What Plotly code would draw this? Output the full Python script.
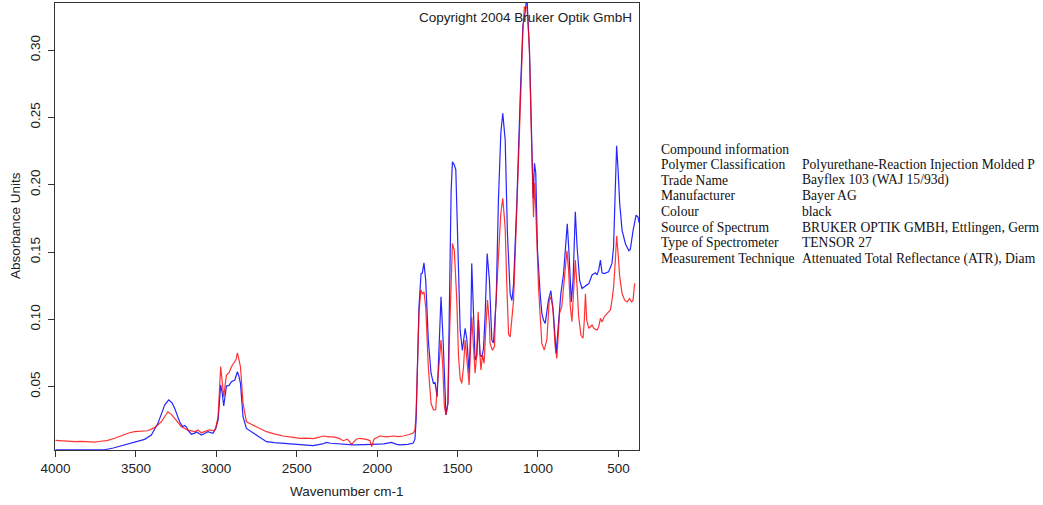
import plotly.graph_objects as go

# Wavenumber (cm-1) and absorbance of the two ATR spectra
wn_blue = [4000, 3900, 3800, 3695, 3640, 3591, 3508, 3446, 3404, 3363, 3321, 3296, 3275, 3259,
           3228, 3210, 3197, 3185, 3176, 3155, 3134, 3124, 3105, 3093, 3070, 3052, 3021, 3004,
           2989, 2973, 2963, 2954, 2937, 2921, 2906, 2885, 2869, 2860, 2850, 2834, 2813, 2780,
           2750, 2688, 2640, 2585, 2481, 2420, 2398, 2340, 2315, 2290, 2232, 2149, 2080, 2024,
           1960, 1910, 1880, 1858, 1810, 1775, 1765, 1758, 1750, 1740, 1727, 1719, 1709, 1698,
           1682, 1665, 1650, 1640, 1627, 1613, 1603, 1590, 1578, 1572, 1560, 1551, 1540, 1532,
           1520, 1511, 1501, 1484, 1470, 1462, 1453, 1442, 1428, 1418, 1412, 1398, 1391, 1380,
           1370, 1360, 1349, 1339, 1329, 1316, 1302, 1287, 1277, 1260, 1246, 1231, 1219, 1204,
           1190, 1173, 1162, 1152, 1131, 1111, 1094, 1080, 1069, 1053, 1040, 1030, 1022, 1014,
           1003, 997, 986, 976, 966, 955, 935, 920, 904, 887, 873, 858, 841, 829, 818, 807, 793,
           782, 768, 757, 741, 726, 705, 684, 664, 643, 633, 622, 612, 602, 588, 561, 540, 530,
           519, 511, 502, 492, 477, 456, 435, 426, 409, 390, 378, 372]
abs_blue = [0.0032, 0.0031, 0.0030, 0.0032, 0.0045, 0.0062, 0.0092, 0.0109, 0.0141, 0.0228,
            0.0364, 0.0403, 0.0380, 0.0340, 0.0240, 0.0205, 0.0212, 0.0200, 0.0178, 0.0147,
            0.0155, 0.0166, 0.0150, 0.0141, 0.0155, 0.0166, 0.0154, 0.0190, 0.0253, 0.0513,
            0.0450, 0.0357, 0.0505, 0.0510, 0.0537, 0.0550, 0.0611, 0.0580, 0.0525, 0.0277,
            0.0190, 0.0165, 0.0141, 0.0092, 0.0085, 0.0080, 0.0075, 0.0066, 0.0062, 0.0075,
            0.0087, 0.0080, 0.0075, 0.0068, 0.0070, 0.0072, 0.0075, 0.0087, 0.0072, 0.0068,
            0.0072, 0.0082, 0.0110, 0.0250, 0.0700, 0.1090, 0.1342, 0.1345, 0.1420, 0.1290,
            0.0847, 0.0600, 0.0525, 0.0530, 0.0426, 0.0797, 0.1168, 0.0847, 0.0377, 0.0290,
            0.0377, 0.1090, 0.1960, 0.2170, 0.2146, 0.2110, 0.1590, 0.0920, 0.0770, 0.0847,
            0.0934, 0.0847, 0.0600, 0.0946, 0.1416, 0.0946, 0.0698, 0.0735, 0.0995, 0.0735,
            0.0723, 0.0780, 0.1020, 0.1490, 0.1290, 0.0847, 0.0825, 0.1140, 0.1887, 0.2385,
            0.2530, 0.2335, 0.1639, 0.1190, 0.1140, 0.1260, 0.1890, 0.2637, 0.3180, 0.3280,
            0.3400, 0.3000, 0.2350, 0.1900, 0.2160, 0.2090, 0.1510, 0.1370, 0.1180, 0.1045,
            0.0995, 0.0970, 0.1143, 0.1213, 0.1045, 0.0748, 0.0946, 0.1190, 0.1340, 0.1540,
            0.1710, 0.1490, 0.1130, 0.1290, 0.1800, 0.1540, 0.1290, 0.1230, 0.1250, 0.1266,
            0.1330, 0.1346, 0.1330, 0.1370, 0.1440, 0.1346, 0.1340, 0.1354, 0.1416, 0.1540,
            0.1985, 0.2290, 0.2110, 0.1860, 0.1660, 0.1560, 0.1510, 0.1520, 0.1660, 0.1775,
            0.1760, 0.1720]

wn_red = [4000, 3960, 3920, 3880, 3840, 3800, 3757, 3720, 3680, 3633, 3600, 3570, 3540, 3508,
          3470, 3427, 3384, 3342, 3301, 3280, 3259, 3217, 3176, 3134, 3114, 3093, 3070, 3041,
          3014, 3004, 2989, 2973, 2962, 2954, 2937, 2921, 2906, 2890, 2878, 2869, 2850, 2834,
          2813, 2780, 2750, 2688, 2640, 2585, 2530, 2481, 2440, 2398, 2360, 2336, 2300, 2273,
          2240, 2211, 2185, 2159, 2130, 2107, 2066, 2045, 2034, 2020, 1983, 1940, 1900, 1870,
          1838, 1800, 1775, 1765, 1758, 1750, 1740, 1729, 1719, 1709, 1698, 1682, 1665, 1650,
          1636, 1623, 1611, 1603, 1592, 1582, 1572, 1560, 1551, 1540, 1532, 1520, 1505, 1494,
          1484, 1474, 1463, 1453, 1442, 1428, 1418, 1412, 1398, 1391, 1382, 1372, 1363, 1355,
          1345, 1335, 1324, 1314, 1302, 1298, 1283, 1270, 1264, 1246, 1231, 1219, 1204, 1194,
          1183, 1173, 1152, 1131, 1111, 1094, 1085, 1069, 1059, 1053, 1040, 1032, 1028, 1020,
          1012, 1001, 997, 986, 976, 961, 945, 930, 920, 908, 893, 883, 866, 852, 835, 820, 810,
          799, 789, 779, 768, 757, 747, 733, 720, 712, 705, 697, 684, 664, 653, 633, 622, 612,
          602, 588, 571, 550, 540, 530, 519, 511, 502, 492, 477, 461, 446, 430, 418, 409, 399]
abs_red = [0.0102, 0.0098, 0.0095, 0.0092, 0.0094, 0.0090, 0.0089, 0.0095, 0.0100, 0.0117,
           0.0133, 0.0147, 0.0158, 0.0166, 0.0170, 0.0173, 0.0196, 0.0240, 0.0314, 0.0295,
           0.0265, 0.0203, 0.0178, 0.0166, 0.0178, 0.0158, 0.0168, 0.0180, 0.0173, 0.0190,
           0.0277, 0.0649, 0.0520, 0.0426, 0.0587, 0.0604, 0.0649, 0.0674, 0.0700, 0.0752,
           0.0649, 0.0377, 0.0240, 0.0220, 0.0203, 0.0166, 0.0150, 0.0134, 0.0125, 0.0117,
           0.0118, 0.0115, 0.0125, 0.0134, 0.0128, 0.0127, 0.0118, 0.0099, 0.0110, 0.0072,
           0.0110, 0.0117, 0.0109, 0.0100, 0.0055, 0.0110, 0.0134, 0.0128, 0.0134, 0.0130,
           0.0134, 0.0145, 0.0158, 0.0178, 0.0300, 0.0700, 0.1040, 0.1220, 0.1190, 0.1205,
           0.1090, 0.0649, 0.0377, 0.0327, 0.0330, 0.0550, 0.0748, 0.0847, 0.0649, 0.0352,
           0.0290, 0.0377, 0.0847, 0.1390, 0.1564, 0.1510, 0.1143, 0.0723, 0.0562, 0.0525,
           0.0649, 0.0847, 0.0723, 0.0513, 0.0847, 0.1020, 0.0735, 0.0600, 0.0723, 0.1057,
           0.0780, 0.0624, 0.0735, 0.0673, 0.0946, 0.1143, 0.0970, 0.0822, 0.0770, 0.0800,
           0.1070, 0.1510, 0.1790, 0.1900, 0.1680, 0.1260, 0.0890, 0.0870, 0.1140, 0.1840,
           0.2580, 0.3135, 0.3320, 0.3320, 0.3135, 0.2980, 0.2320, 0.1880, 0.1760, 0.2015,
           0.1800, 0.1390, 0.1240, 0.0995, 0.0820, 0.0773, 0.0847, 0.1143, 0.1168, 0.1090,
           0.0797, 0.0710, 0.1045, 0.1096, 0.1290, 0.1510, 0.1370, 0.1096, 0.0983, 0.1190,
           0.1440, 0.1240, 0.1020, 0.0884, 0.0860, 0.0995, 0.1190, 0.0995, 0.0934, 0.0958,
           0.0934, 0.0920, 0.0946, 0.1008, 0.0980, 0.1020, 0.1045, 0.1070, 0.1143, 0.1240,
           0.1440, 0.1620, 0.1490, 0.1318, 0.1190, 0.1143, 0.1130, 0.1155, 0.1130, 0.1143,
           0.1268]

x_ticks = [4000, 3500, 3000, 2500, 2000, 1500, 1000, 500]
y_ticks = [0.05, 0.10, 0.15, 0.20, 0.25, 0.30]

info_labels = ["Compound information", "Polymer Classification", "Trade Name", "Manufacturer",
               "Colour", "Source of Spectrum", "Type of Spectrometer", "Measurement Technique"]
info_values = ["", "Polyurethane-Reaction Injection Molded P", "Bayflex 103 (WAJ 15/93d)",
               "Bayer AG", "black", "BRUKER OPTIK GMBH, Ettlingen, Germ", "TENSOR 27",
               "Attenuated Total Reflectance (ATR), Diam"]

W, H = 1043, 505
L, R, T, B = 55, 639, 3, 450
pw, ph = R - L, B - T


def px(x):
    return (x - L) / pw


def py(y):
    return (B - y) / ph


fig = go.Figure()
fig.add_trace(go.Scatter(x=wn_blue, y=abs_blue, mode="lines",
                         line=dict(color="rgba(0,0,255,0.85)", width=1.2),
                         showlegend=False, hoverinfo="skip"))
fig.add_trace(go.Scatter(x=wn_red, y=abs_red, mode="lines",
                         line=dict(color="rgba(255,0,0,0.8)", width=1.2),
                         showlegend=False, hoverinfo="skip"))

sans = "Liberation Sans, Arial, sans-serif"
serif = "Liberation Serif, Times New Roman, serif"
fs = 13.5

annotations = [
    dict(text="Copyright 2004 Bruker Optik GmbH", xref="paper", yref="paper",
         x=px(634), y=py(17), xanchor="right", yanchor="middle", showarrow=False,
         font=dict(family=sans, size=fs, color="#222")),
    dict(text="Absorbance Units", xref="paper", yref="paper", x=px(15), y=py(226),
         xanchor="center", yanchor="middle", textangle=-90, showarrow=False,
         font=dict(family=sans, size=fs, color="#222")),
    dict(text="Wavenumber cm-1", xref="paper", yref="paper", x=px(347), y=py(491),
         xanchor="center", yanchor="middle", showarrow=False,
         font=dict(family=sans, size=fs, color="#222")),
]

row0, step = 149, 15.65
for i, (lab, val) in enumerate(zip(info_labels, info_values)):
    yy = row0 + i * step
    annotations.append(dict(text=lab, xref="paper", yref="paper", x=px(659), y=py(yy),
                            xanchor="left", yanchor="middle", showarrow=False,
                            font=dict(family=serif, size=13.6, color="#111")))
    if val:
        annotations.append(dict(text=val, xref="paper", yref="paper", x=px(800), y=py(yy),
                                xanchor="left", yanchor="middle", showarrow=False,
                                font=dict(family=serif, size=13.6, color="#111")))

fig.update_layout(
    width=W, height=H,
    margin=dict(l=L, r=W - R, t=T, b=H - B, pad=0),
    paper_bgcolor="white", plot_bgcolor="white",
    annotations=annotations,
    xaxis=dict(range=[4003, 372], tickvals=x_ticks, ticktext=[str(v) for v in x_ticks],
               ticks="outside", ticklen=6, tickcolor="#333", showgrid=False, zeroline=False,
               showline=True, mirror=True, linecolor="#333", linewidth=1,
               tickfont=dict(family=sans, size=fs, color="#222")),
    yaxis=dict(range=[0.003, 0.335], tickvals=y_ticks, ticktext=[f"{v:.2f}" for v in y_ticks],
               ticks="outside", ticklen=6, tickcolor="#333", showgrid=False, zeroline=False,
               showline=True, mirror=True, linecolor="#333", linewidth=1, tickangle=-90,
               ticklabelstandoff=3,
               tickfont=dict(family=sans, size=fs, color="#222")),
)

fig.write_html("out.html")
